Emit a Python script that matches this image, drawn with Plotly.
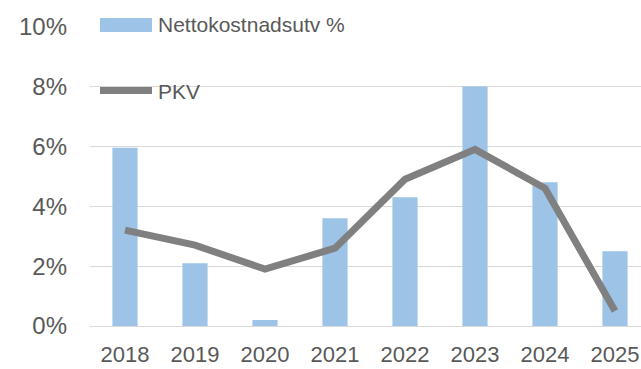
import plotly.graph_objects as go

# Annual series
years = ["2018", "2019", "2020", "2021", "2022", "2023", "2024", "2025"]
netto_pct = [0.0595, 0.021, 0.002, 0.036, 0.043, 0.080, 0.048, 0.025]
pkv_pct = [0.032, 0.027, 0.019, 0.026, 0.049, 0.059, 0.046, 0.005]
y_ticks = [0.0, 0.02, 0.04, 0.06, 0.08, 0.10]

bar_name = "Nettokostnadsutv %"
line_name = "PKV"
bar_color = "#9DC3E6"
line_color = "#808080"
text_color = "#595959"
grid_color = "#D9D9D9"

W, H = 641, 369
ML, MR, MT, MB = 90, 0, 26, 43
plot_w = W - ML - MR
plot_h = H - MT - MB
cat_px = 70  # horizontal room per year

fig = go.Figure()
fig.add_trace(go.Bar(
    x=years, y=netto_pct, name=bar_name,
    marker=dict(color=bar_color, line=dict(width=0)),
    width=0.36, showlegend=False,
))
fig.add_trace(go.Scatter(
    x=years, y=pkv_pct, name=line_name, mode="lines",
    line=dict(color=line_color, width=7),
    showlegend=False,
))


def px_x(px):
    return (px - ML) / plot_w


def px_y(py):
    return (H - MB - py) / plot_h


# Hand-laid legend: wide swatches with text to their right
shapes = [
    dict(type="rect", xref="paper", yref="paper",
         x0=px_x(100), x1=px_x(152), y0=px_y(32), y1=px_y(18),
         fillcolor=bar_color, line=dict(width=0), layer="above"),
    dict(type="line", xref="paper", yref="paper",
         x0=px_x(100), x1=px_x(152), y0=px_y(90.5), y1=px_y(90.5),
         line=dict(color=line_color, width=7), layer="above"),
]
annotations = [
    dict(text=bar_name, xref="paper", yref="paper", x=px_x(156), y=px_y(25),
         xanchor="left", yanchor="middle", showarrow=False,
         font=dict(family="Liberation Sans, Arial, sans-serif", size=21, color=text_color)),
    dict(text=line_name, xref="paper", yref="paper", x=px_x(156), y=px_y(92),
         xanchor="left", yanchor="middle", showarrow=False,
         font=dict(family="Liberation Sans, Arial, sans-serif", size=21, color=text_color)),
]

fig.update_layout(
    width=W, height=H,
    margin=dict(l=ML, r=MR, t=MT, b=MB, pad=0),
    paper_bgcolor="white", plot_bgcolor="white",
    bargap=0.64,
    shapes=shapes, annotations=annotations,
    xaxis=dict(
        type="category", range=[-0.5, -0.5 + plot_w / cat_px],
        showgrid=False, zeroline=False, showline=False, ticks="",
        tickfont=dict(family="Liberation Sans Narrow, Arial Narrow, Liberation Sans, sans-serif",
                      size=22, color=text_color),
        ticklabelstandoff=13,
    ),
    yaxis=dict(
        range=[0, 0.1002], tickvals=y_ticks, tickformat=".0%",
        showgrid=True, gridcolor=grid_color, gridwidth=1.3,
        zeroline=True, zerolinecolor=grid_color, zerolinewidth=1.3,
        showline=False, ticks="",
        tickfont=dict(family="Liberation Sans, Arial, sans-serif", size=24, color=text_color),
        ticklabelstandoff=22,
    ),
    showlegend=False,
)

fig.write_html("out.html")
